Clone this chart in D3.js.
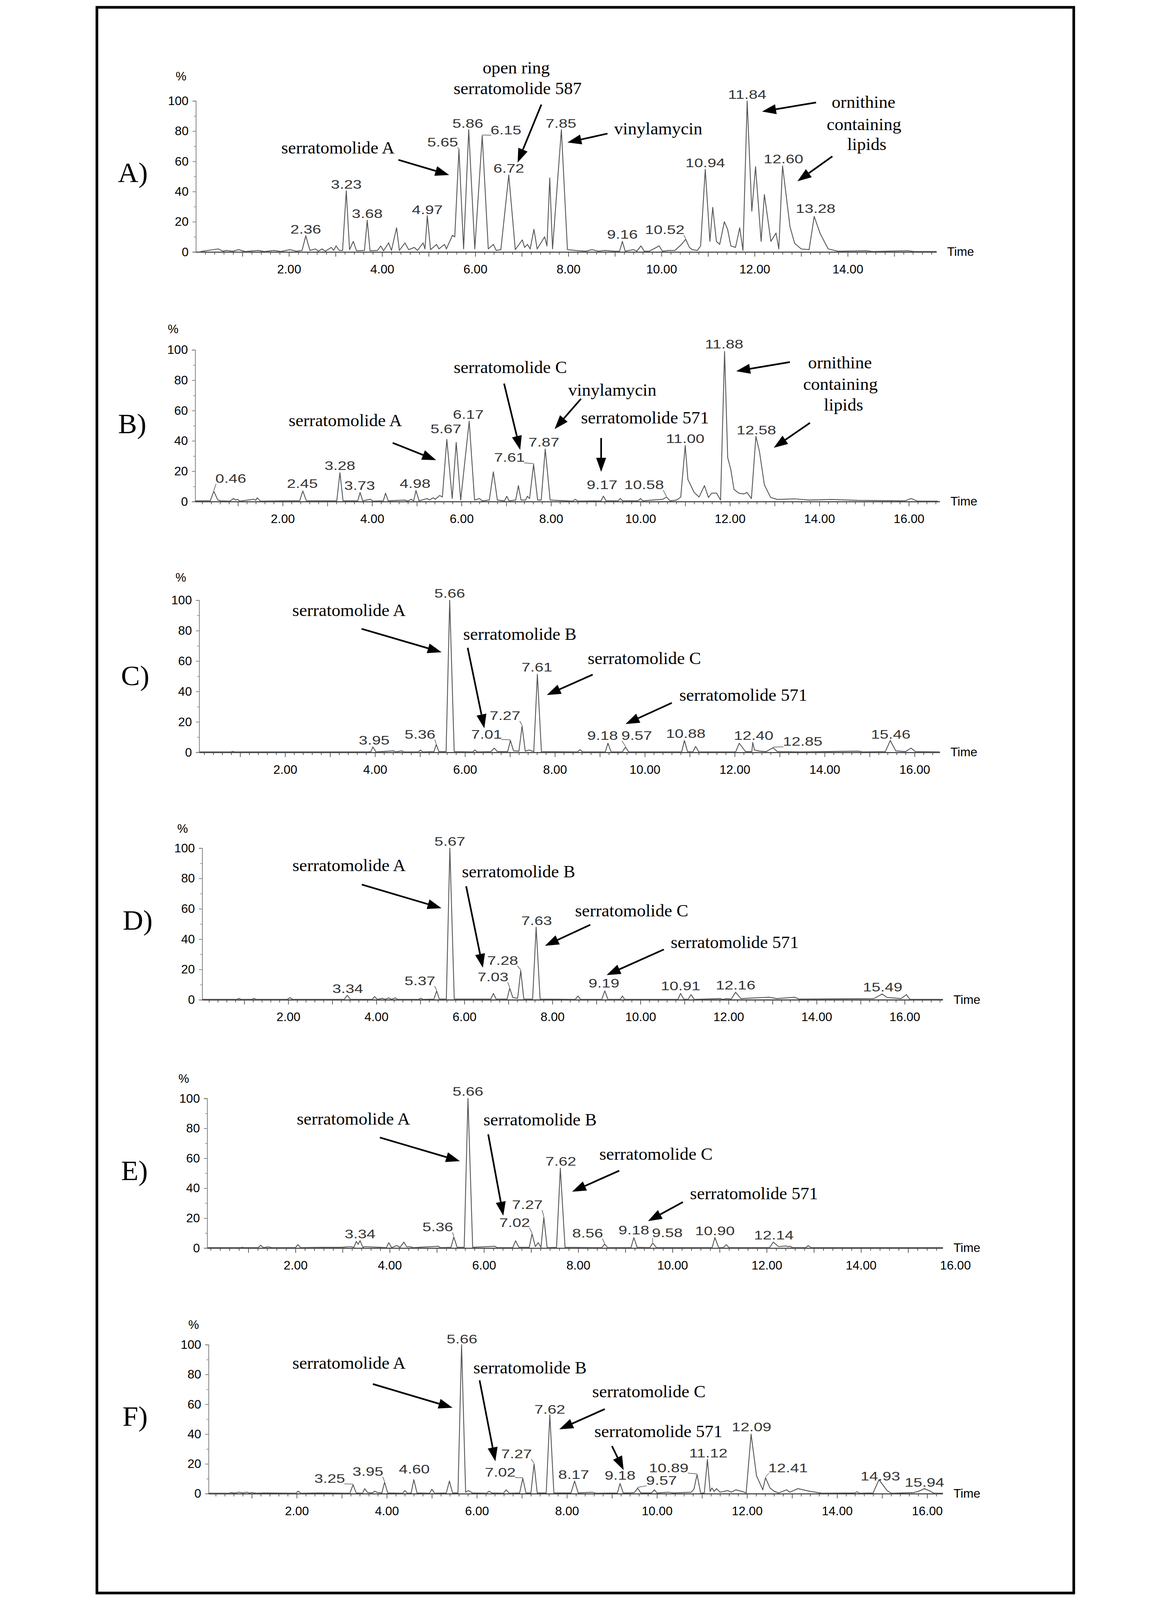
<!DOCTYPE html>
<html><head><meta charset="utf-8">
<script src="https://cdn.jsdelivr.net/npm/d3@7"></script>
<style>html,body{margin:0;padding:0;background:#fff;overflow:hidden}svg{display:block}</style>
</head><body>
<svg id="fig"></svg>
<script>
// ================= DATA =================
const panelLetters = ["A)","B)","C)","D)","E)","F)"];

// chromatogram traces: [time (min), relative intensity (%)]
const traceA = [[0.10,0.3],[0.48,2],[0.58,0.5],[0.65,1],[0.79,0.5],[0.92,1.5],[1.06,0.3],[1.34,1],[1.47,0.3],[1.68,1],[1.82,0.3],[2.02,1.5],[2.16,0.5],[2.28,1],[2.36,10.7],[2.45,1],[2.57,2],[2.63,0.5],[2.71,2],[2.78,0.5],[2.91,3],[2.96,1],[3.01,4],[3.08,1],[3.15,1],[3.23,40.5],[3.30,1.5],[3.38,7],[3.45,0.8],[3.62,1],[3.68,21],[3.74,0.8],[3.90,1],[3.97,4],[4.03,0.8],[4.14,6],[4.20,1],[4.31,16],[4.37,1],[4.49,6],[4.57,1.5],[4.69,3],[4.76,1],[4.88,6],[4.92,2],[4.97,24],[5.04,1.5],[5.17,5],[5.22,2],[5.34,5],[5.38,2],[5.51,11],[5.56,10],[5.65,68],[5.75,2],[5.86,81],[5.99,2],[6.15,77],[6.28,2],[6.39,5],[6.45,1],[6.55,1.5],[6.72,51],[6.86,1.5],[7.01,8],[7.06,3],[7.12,5],[7.18,2],[7.26,15],[7.33,2],[7.49,10],[7.54,4],[7.60,49],[7.66,2],[7.85,81],[7.98,1.5],[8.22,0.8],[8.37,0.5],[8.51,1.5],[8.65,0.5],[8.78,1],[8.99,0.5],[9.10,0.5],[9.16,7],[9.22,0.5],[9.40,1.5],[9.47,0.5],[9.56,4],[9.63,0.5],[9.74,0.5],[9.95,4],[10.02,0.5],[10.16,1],[10.29,1],[10.43,5],[10.52,8.4],[10.60,3],[10.66,1.5],[10.77,1],[10.84,4],[10.94,54.7],[11.04,7],[11.10,29.5],[11.18,7],[11.25,5],[11.35,20],[11.42,15],[11.49,4],[11.59,3],[11.68,16],[11.75,1],[11.84,100],[11.94,27],[12.02,56.5],[12.14,7],[12.21,38],[12.35,7],[12.46,12.5],[12.52,2],[12.60,57],[12.76,16.7],[12.86,5.7],[13.00,2],[13.17,1.5],[13.28,23.5],[13.41,12],[13.58,2],[13.79,0.5],[14.40,0.8],[14.53,0.3],[15.29,0.8],[15.43,0.3],[15.91,0.3]];
const traceB = [[0.04,0.5],[0.38,0.5],[0.46,6.8],[0.55,1],[0.62,0.5],[0.82,0.3],[0.90,2],[0.95,1],[0.99,1.5],[1.04,0.3],[1.36,1.5],[1.40,0.8],[1.43,2.5],[1.50,0.3],[2.00,0.5],[2.38,0.5],[2.45,7],[2.53,0.5],[3.21,0.5],[3.28,19],[3.35,0.5],[3.68,0.5],[3.73,6],[3.79,0.5],[3.96,1.5],[4.02,0.3],[4.25,0.5],[4.30,5.5],[4.36,0.5],[4.73,1],[4.80,0.3],[4.87,1.5],[4.93,0.5],[4.98,7.3],[5.05,0.5],[5.23,2],[5.28,1],[5.37,2.5],[5.41,1.5],[5.51,4],[5.57,3],[5.67,41],[5.79,2],[5.88,39],[5.98,1],[6.17,53],[6.29,1],[6.40,2],[6.46,0.5],[6.62,1],[6.71,19.6],[6.80,1],[6.96,0.5],[7.01,3.5],[7.06,0.5],[7.21,1],[7.27,10.5],[7.33,1],[7.43,1],[7.47,3.5],[7.52,2],[7.61,24.6],[7.70,1],[7.78,1],[7.87,34.6],[7.98,1],[8.49,0.3],[8.54,1.5],[8.60,0.3],[9.12,0.5],[9.17,3.6],[9.23,0.5],[9.50,0.5],[9.55,2],[9.60,0.5],[9.95,0.5],[10.00,2],[10.05,0.5],[10.50,1.5],[10.58,3],[10.66,0.5],[10.81,1],[10.90,3],[11.00,37],[11.06,14.6],[11.20,6],[11.31,3],[11.43,10.5],[11.52,2.7],[11.59,5.5],[11.70,5.6],[11.79,1],[11.88,99],[11.95,29],[12.02,21],[12.09,8],[12.20,5.5],[12.31,5],[12.38,6],[12.48,2],[12.58,43],[12.66,33],[12.77,11],[12.91,2.7],[13.06,1.4],[13.45,1.8],[13.77,1],[14.27,1.4],[14.85,0.8],[15.92,0.5],[16.05,2],[16.19,0.3],[16.65,0.3]];
const traceC = [[0.09,0.3],[0.80,0.3],[0.83,0.6],[0.88,0.3],[3.85,0.3],[3.91,0.5],[3.95,3.6],[4.02,0.3],[4.41,1],[4.46,0.3],[4.59,1],[4.64,0.3],[4.96,0.3],[5.01,1.5],[5.06,0.3],[5.31,0.5],[5.36,5.2],[5.42,0.5],[5.58,0.5],[5.66,100],[5.76,0.5],[6.17,0.3],[6.22,1.5],[6.27,0.3],[6.58,0.5],[6.65,2.8],[6.72,0.5],[6.95,0.5],[7.01,7.8],[7.08,1],[7.20,0.8],[7.27,17.3],[7.34,0.8],[7.43,1.5],[7.53,0.5],[7.61,51.3],[7.70,0.5],[8.50,0.3],[8.56,1.7],[8.62,0.3],[9.12,0.3],[9.18,6],[9.25,0.3],[9.50,0.3],[9.57,3.5],[9.64,0.3],[10.82,0.3],[10.88,7.8],[10.95,0.5],[11.07,0.3],[11.13,3.9],[11.20,0.3],[12.02,0.3],[12.10,6],[12.24,0.5],[12.38,0.5],[12.40,6.5],[12.44,1.5],[12.55,0.8],[12.70,0.5],[12.85,3],[12.95,0.5],[13.50,0.3],[14.74,0.8],[14.85,0.3],[15.35,0.5],[15.46,7.8],[15.58,1],[15.80,0.5],[15.92,2.8],[16.02,0.5],[16.56,0.3]];
const traceD = [[0.05,0.3],[0.84,0.3],[0.88,1],[0.92,0.3],[1.18,0.3],[1.22,1],[1.26,0.3],[1.98,0.3],[2.04,1.4],[2.10,0.3],[3.27,0.3],[3.34,3],[3.41,0.3],[3.91,0.3],[3.96,2.1],[4.02,0.3],[4.14,1],[4.20,0.3],[4.28,1.3],[4.34,0.3],[4.43,1.3],[4.48,0.3],[4.96,0.3],[5.01,1],[5.06,0.3],[5.31,0.5],[5.37,5.9],[5.43,0.5],[5.59,0.5],[5.67,100],[5.77,0.5],[6.22,0.5],[6.60,0.5],[6.66,4.2],[6.72,0.5],[6.97,0.5],[7.03,7.6],[7.10,1.5],[7.14,1.3],[7.21,1],[7.28,19.3],[7.35,0.5],[7.55,0.5],[7.63,47.9],[7.72,0.5],[8.52,0.3],[8.58,2.5],[8.64,0.3],[9.12,0.3],[9.19,5.9],[9.26,0.3],[9.54,0.3],[9.59,2.5],[9.64,0.3],[10.85,0.3],[10.91,4.2],[10.98,0.5],[11.08,0.3],[11.15,3.4],[11.22,0.3],[11.80,0.8],[11.88,0.3],[11.95,0.8],[12.06,0.5],[12.16,5],[12.28,0.8],[12.92,1.7],[13.10,0.8],[13.50,1.7],[13.60,0.5],[15.30,0.8],[15.49,3.8],[15.60,1.5],[15.71,1.3],[15.92,0.8],[16.04,3.4],[16.12,0.3],[16.87,0.3]];
const traceE = [[0.13,0.3],[0.83,0.3],[0.87,0.5],[0.91,0.3],[1.21,0.3],[1.26,1.9],[1.32,0.3],[1.42,0.8],[1.50,0.3],[2.00,0.3],[2.05,2.3],[2.11,0.3],[2.56,0.5],[2.97,0.5],[3.17,1],[3.24,0.5],[3.29,4.5],[3.33,2.5],[3.37,5],[3.43,0.5],[3.47,1],[3.93,0.3],[3.98,3.6],[4.04,0.3],[4.15,1.7],[4.22,0.5],[4.30,4],[4.36,0.8],[4.42,1],[4.50,0.3],[5.03,1.2],[5.08,0.3],[5.30,0.5],[5.36,7.4],[5.43,0.5],[5.58,0.5],[5.66,100],[5.76,0.5],[6.23,1.2],[6.28,0.3],[6.61,0.3],[6.67,4.9],[6.74,0.5],[6.96,0.5],[7.02,9.5],[7.09,1],[7.15,3.6],[7.21,0.5],[7.27,20.6],[7.34,0.3],[7.54,0.5],[7.62,53.4],[7.72,0.5],[8.50,0.3],[8.56,2.7],[8.62,0.3],[9.12,0.3],[9.18,7],[9.25,0.5],[9.52,0.3],[9.58,3.4],[9.66,0.3],[10.84,0.3],[10.90,7],[10.98,0.3],[11.08,0.3],[11.14,2.3],[11.20,0.3],[12.06,0.3],[12.14,4],[12.25,1],[12.42,1.4],[12.46,0.8],[12.49,1.3],[12.55,0.3],[12.83,0.3],[12.88,1.7],[12.94,0.3],[15.74,0.3]];
const traceF = [[0.04,0.3],[0.50,0.3],[0.54,0.8],[0.62,0.4],[0.71,1],[0.80,0.5],[0.89,1],[0.95,0.4],[1.00,0.8],[1.10,0.3],[1.28,0.5],[1.98,0.3],[2.03,1.7],[2.09,0.3],[2.49,0.5],[3.18,0.3],[3.25,6],[3.32,0.5],[3.46,0.3],[3.51,3.4],[3.57,0.8],[3.68,0.5],[3.73,1.7],[3.79,0.8],[3.89,0.5],[3.95,7.7],[4.02,0.5],[4.35,0.3],[4.40,2.1],[4.46,0.3],[4.54,0.5],[4.60,9.4],[4.67,0.5],[4.95,0.3],[5.00,3],[5.06,0.3],[5.32,0.5],[5.39,8.5],[5.46,0.5],[5.58,0.5],[5.66,100],[5.75,1],[5.81,2.1],[5.90,0.5],[6.22,0.3],[6.27,1.7],[6.33,0.5],[6.59,0.3],[6.65,2.6],[6.72,0.3],[6.95,0.5],[7.02,10.3],[7.09,0.5],[7.20,0.5],[7.27,20],[7.34,0.5],[7.54,0.5],[7.62,53],[7.71,0.5],[8.09,0.5],[8.17,8.5],[8.25,0.5],[8.56,1],[8.65,0.3],[9.12,0.5],[9.18,6.8],[9.25,0.5],[9.40,0.5],[9.50,0.8],[9.57,3.8],[9.64,0.5],[9.88,0.5],[9.94,2.6],[10.00,0.5],[10.26,1],[10.35,0.5],[10.76,1],[10.82,3],[10.89,12.8],[10.97,0.3],[11.05,0.5],[11.12,23],[11.18,1.5],[11.22,3.8],[11.27,1.5],[11.32,3.4],[11.40,1],[11.57,2.1],[11.65,1],[11.75,2.6],[11.89,1.5],[11.98,0.5],[12.09,40],[12.21,12],[12.35,2.6],[12.41,10.7],[12.51,3.8],[12.60,1.7],[12.70,0.5],[12.88,2.6],[12.95,1],[13.13,3.4],[13.38,1.7],[13.66,0.3],[14.40,0.5],[14.44,1.3],[14.50,0.3],[14.80,0.5],[14.93,9.4],[15.11,2.1],[15.20,0.3],[15.71,0.8],[15.80,1.5],[15.94,3.4],[16.07,1.7],[16.15,0.3],[16.35,0.3]];

// labelled peaks: [label text, retention time, apex intensity %]
const peaksA = [["2.36",2.36,10.7],["3.23",3.23,40.5],["3.68",3.68,21],["4.97",4.97,24],["5.65",5.65,68],["5.86",5.86,81],["6.15",6.15,77],["6.72",6.72,51],["7.85",7.85,81],["9.16",9.16,7],["10.52",10.52,8.4],["10.94",10.94,54.7],["11.84",11.84,100],["12.60",12.60,57],["13.28",13.28,23.5]];
const peaksB = [["0.46",0.46,6.8],["2.45",2.45,7],["3.28",3.28,19],["3.73",3.73,6],["4.98",4.98,7.3],["5.67",5.67,41],["6.17",6.17,53],["7.61",7.61,24.6],["7.87",7.87,34.6],["9.17",9.17,3.6],["10.58",10.58,3],["11.00",11.00,37],["11.88",11.88,99],["12.58",12.58,43]];
const peaksC = [["3.95",3.95,3.6],["5.36",5.36,5.2],["5.66",5.66,100],["7.01",7.01,7.8],["7.27",7.27,17.3],["7.61",7.61,51.3],["9.18",9.18,6],["9.57",9.57,3.5],["10.88",10.88,7.8],["12.40",12.40,6.5],["12.85",12.85,3],["15.46",15.46,7.8]];
const peaksD = [["3.34",3.34,3],["5.37",5.37,5.9],["5.67",5.67,100],["7.03",7.03,7.6],["7.28",7.28,19.3],["7.63",7.63,47.9],["9.19",9.19,5.9],["10.91",10.91,4.2],["12.16",12.16,5],["15.49",15.49,3.8]];
const peaksE = [["3.34",3.34,5],["5.36",5.36,7.4],["5.66",5.66,100],["7.02",7.02,9.5],["7.27",7.27,20.6],["7.62",7.62,53.4],["8.56",8.56,2.7],["9.18",9.18,7],["9.58",9.58,3.4],["10.90",10.90,7],["12.14",12.14,4]];
const peaksF = [["3.25",3.25,6],["3.95",3.95,7.7],["4.60",4.60,9.4],["5.66",5.66,100],["7.02",7.02,10.3],["7.27",7.27,20],["7.62",7.62,53],["8.17",8.17,8.5],["9.18",9.18,6.8],["9.57",9.57,3.8],["10.89",10.89,12.8],["11.12",11.12,23],["12.09",12.09,40],["12.41",12.41,10.7],["14.93",14.93,9.4],["15.94",15.94,3.4]];

// compound annotations (text)
const notesTextA = ["serratomolide A","open ring","serratomolide 587","vinylamycin","ornithine","containing","lipids"];
const notesTextB = ["serratomolide A","serratomolide C","vinylamycin","serratomolide 571","ornithine","containing","lipids"];
const notesTextC = ["serratomolide A","serratomolide B","serratomolide C","serratomolide 571"];
const notesTextD = notesTextC, notesTextE = notesTextC, notesTextF = notesTextC;

// axis tick labels
const xTickLabelsA = ["2.00","4.00","6.00","8.00","10.00","12.00","14.00"];
const xTickLabelsBF = ["2.00","4.00","6.00","8.00","10.00","12.00","14.00","16.00"];
const yTickLabels = ["0","20","40","60","80","100"];
const yMinorTicks = [10,30,50,70,90];

// ================= LAYOUT (positions in data units: [time, %]) =================
const layouts = [
  {x0:330,  k:139.7, axisX:330, xEnd:2552, y0:756,    y100:303},
  {x0:322,  k:134.2, axisX:328, xEnd:2562, y0:1505,   y100:1050},
  {x0:328,  k:134.9, axisX:340, xEnd:2562, y0:2257.5, y100:1801},
  {x0:343,  k:132.1, axisX:349, xEnd:2571, y0:3000,   y100:2545},
  {x0:346,  k:141.4, axisX:364, xEnd:2571, y0:3745,   y100:3296},
  {x0:362.5,k:135.1, axisX:368, xEnd:2571, y0:4482,   y100:4035}
];
const labelPosA = [[2.36,12.1],[3.23,41.8],[3.68,22.6],[4.97,25.2],[5.30,69.8],[5.84,82.4],[6.66,78],[6.72,52.4],[7.84,82.3],[9.16,8.9],[10.07,11.8],[10.94,56.2],[11.84,101.4],[12.62,58.8],[13.31,25.8]];
const labelPosB = [[0.84,12.3],[2.44,8.9],[3.28,20.8],[3.72,7.7],[4.96,8.9],[5.65,45],[6.15,54.6],[7.07,26.2],[7.84,36.2],[9.14,8.2],[10.08,8.2],[11.00,38.7],[11.87,101],[12.59,44.2]];
const labelPosC = [[3.98,5.2],[5.00,9.1],[5.66,101.6],[6.48,9.1],[6.89,21.2],[7.60,53.2],[9.06,8.2],[9.82,8.2],[10.91,9.5],[12.42,8.2],[13.51,4.3],[15.47,9.1]];
const labelPosD = [[3.35,4.6],[4.99,9.7],[5.67,101.5],[6.65,12.2],[6.87,23.1],[7.64,49.2],[9.17,8],[10.91,6.3],[12.16,6.9],[15.50,5.5]];
const labelPosE = [[3.37,6.6],[5.02,11.2],[5.66,101.7],[6.65,14.2],[6.92,26.1],[7.63,55.1],[8.20,7],[9.18,9.1],[9.89,7.4],[10.90,8.7],[12.15,5.7]];
const labelPosF = [[2.73,7.3],[3.58,12],[4.61,13.7],[5.67,101],[6.52,11.5],[6.88,23.9],[7.62,53.8],[8.15,9.8],[9.18,9.4],[10.10,6],[10.26,14.5],[11.14,24.4],[12.10,41.9],[12.91,14.5],[14.96,9],[15.94,4.7]];

const notesPosA = [[3.05,65.1],[6.88,118.2],[6.91,104.5],[9.93,77.9],[14.34,95.4],[14.35,80.8],[14.41,67.4]];
const notesPosB = [[3.40,49.7],[7.09,84.7],[9.37,69.7],[10.10,51.4],[14.46,87.9],[14.47,73.7],[14.54,60.1]];
const notesPosC = [[3.42,89.6],[7.22,74.0],[9.99,58.0],[12.19,33.8]];
const notesPosD = [[3.38,84.8],[7.23,80.7],[9.80,54.9],[12.14,34.0]];
const notesPosE = [[3.23,82.4],[7.19,82.0],[9.65,59.0],[11.73,32.6]];
const notesPosF = [[3.16,83.8],[7.18,80.8],[9.82,64.6],[10.03,38.0]];

const arrowsA = [[[4.35,61.0],[5.44,51.0]],[[7.42,97.6],[6.91,59.2]],[[8.84,78.4],[7.98,72.5]],[[13.32,99.0],[12.16,93.0]],[[13.67,63.3],[12.92,46.8]]];
const arrowsB = [[[4.46,38.7],[5.43,27.3]],[[6.95,77.8],[7.31,34.1]],[[8.67,67.8],[8.08,47.8]],[[9.12,41.9],[9.12,19.6]],[[13.34,92.0],[12.14,86.0]],[[13.79,51.9],[12.98,35.5]]];
const arrowsC = [[[3.70,81.2],[5.48,65.8]],[[6.06,68.7],[6.43,15.8]],[[8.84,51.1],[7.82,37.7]],[[10.60,32.5],[9.57,18.6]]];
const arrowsD = [[[3.67,76.0],[5.48,60.4]],[[6.04,74.9],[6.42,21.1]],[[8.86,49.5],[7.83,35.6]],[[10.53,33.2],[9.23,16.3]]];
const arrowsE = [[[3.79,73.9],[5.49,58.1]],[[6.09,76.0],[6.41,21.6]],[[8.87,51.7],[7.87,37.7]],[[10.22,30.7],[9.48,18.0]]];
const arrowsF = [[[3.69,73.6],[5.46,57.7]],[[6.06,76.1],[6.41,21.7]],[[8.84,56.8],[7.83,43.2]],[[9.00,32.0],[9.26,15.8]]];

const panelLabelPos = [[-1.675,46.4],[-1.68,45.1],[-1.65,44.1],[-1.76,46.2],[-1.70,45.4],[-1.87,45.7]];
const percentPos = [[-0.32,113.7],[-0.45,111],[-0.32,112.2],[-0.40,110.1],[-0.37,110.5],[-0.29,110.7]];

// ================= STYLE =================
const S = {
  sans: "'Liberation Sans', Arial, sans-serif",
  serif: "'Liberation Serif', 'Times New Roman', serif",
  traceColor: "#555", traceWidth: 2.6,
  peakFont: 36, peakScaleX: 1.32, peakColor: "#333",
  noteFont: 53, noteScaleX: 1.0,
  panelFont: 85,
  tickFont: 37, timeFont: 37, pctFont: 36,
  arrowWidth: 5, headLen: 42, headHalf: 15
};

// ================= DRAW =================
// The figure is drawn in a 2995×4801 coordinate space and fitted to the visible window.
const W = 2995, H = 4801;
const vw = window.innerWidth || W;
const vh = Math.min(window.innerHeight || H, H);
const svg = d3.select("#fig").attr("width", vw).attr("height", vh)
  .attr("viewBox", `0 0 ${W} ${H}`).attr("preserveAspectRatio", "xMidYMin meet");
svg.append("rect").attr("x",0).attr("y",0).attr("width",W).attr("height",H).attr("fill","#fff");
svg.append("rect").attr("x",33).attr("y",22).attr("width",2931).attr("height",4758)
  .attr("fill","none").attr("stroke","#000").attr("stroke-width",8);

const panels = [
  {trace:traceA, peaks:peaksA, lpos:labelPosA, notes:notesTextA, npos:notesPosA, arrows:arrowsA, xt:xTickLabelsA},
  {trace:traceB, peaks:peaksB, lpos:labelPosB, notes:notesTextB, npos:notesPosB, arrows:arrowsB, xt:xTickLabelsBF},
  {trace:traceC, peaks:peaksC, lpos:labelPosC, notes:notesTextC, npos:notesPosC, arrows:arrowsC, xt:xTickLabelsBF},
  {trace:traceD, peaks:peaksD, lpos:labelPosD, notes:notesTextD, npos:notesPosD, arrows:arrowsD, xt:xTickLabelsBF},
  {trace:traceE, peaks:peaksE, lpos:labelPosE, notes:notesTextE, npos:notesPosE, arrows:arrowsE, xt:xTickLabelsBF},
  {trace:traceF, peaks:peaksF, lpos:labelPosF, notes:notesTextF, npos:notesPosF, arrows:arrowsF, xt:xTickLabelsBF}
];

panels.forEach((p, i) => {
  const L = layouts[i];
  const tStart = (L.axisX - L.x0) / L.k, tEnd = (L.xEnd - L.x0) / L.k;
  const x = d3.scaleLinear().domain([tStart, tEnd]).range([L.axisX, L.xEnd]);
  const y = d3.scaleLinear().domain([0, 100]).range([L.y0, L.y100]);
  const g = svg.append("g");

  // y axis
  const yAx = g.append("g").attr("transform", `translate(${L.axisX},0)`)
    .call(d3.axisLeft(y).tickValues(yTickLabels.map(Number)).tickFormat((d,j)=>yTickLabels[j]).tickSize(10).tickPadding(12));
  yAx.select(".domain").attr("stroke","#8a8a8a").attr("stroke-width",2.5);
  yAx.selectAll(".tick line").attr("stroke","#777").attr("stroke-width",2);
  yAx.selectAll("text").attr("font-family",S.sans).attr("font-size",S.tickFont).attr("fill","#000");
  const yMin = g.append("g").attr("transform", `translate(${L.axisX},0)`)
    .call(d3.axisLeft(y).tickValues(yMinorTicks).tickFormat("").tickSize(6));
  yMin.select(".domain").remove();
  yMin.selectAll(".tick line").attr("stroke","#888").attr("stroke-width",2);

  // x axis: minor (0.2 min), 1-min, labelled 2-min ticks
  const minor = d3.range(Math.ceil(tStart*5)/5, tEnd, 0.2).filter(v => Math.abs(v - Math.round(v)) > 0.01);
  const xMin = g.append("g").attr("transform", `translate(0,${L.y0})`)
    .call(d3.axisBottom(x).tickValues(minor).tickFormat("").tickSize(8).tickSizeOuter(0));
  xMin.select(".domain").attr("stroke","#333").attr("stroke-width",3);
  xMin.selectAll(".tick line").attr("stroke","#444").attr("stroke-width",2);
  const majors = d3.range(Math.ceil(tStart), tEnd + 0.001, 1).filter(v => v > tStart + 0.05);
  const xMaj = g.append("g").attr("transform", `translate(0,${L.y0})`)
    .call(d3.axisBottom(x).tickValues(majors).tickFormat("").tickSize(14));
  xMaj.select(".domain").remove();
  xMaj.selectAll(".tick line").attr("stroke","#444").attr("stroke-width",2);
  const xLab = g.append("g").attr("transform", `translate(0,${L.y0})`)
    .call(d3.axisBottom(x).tickValues(p.xt.map(Number)).tickFormat((d,j)=>p.xt[j]).tickSize(0));
  xLab.select(".domain").remove();
  xLab.selectAll("text").attr("y", 38).attr("font-family",S.sans).attr("font-size",S.tickFont).attr("fill","#000");

  // "%" and "Time"
  g.append("text").attr("x", x(percentPos[i][0])).attr("y", y(percentPos[i][1]))
    .attr("text-anchor","middle").attr("font-family",S.sans).attr("font-size",S.pctFont).text("%");
  g.append("text").attr("x", x.range()[1] + 32).attr("y", L.y0 + 12)
    .attr("font-family",S.sans).attr("font-size",S.timeFont).text("Time");

  // panel letter
  g.append("text").attr("x", x(panelLabelPos[i][0])).attr("y", y(panelLabelPos[i][1]))
    .attr("font-family",S.serif).attr("font-size",S.panelFont).text(panelLetters[i]);

  // trace
  const line = d3.line().x(d => x(d[0])).y(d => y(d[1]));
  g.append("path").datum(p.trace).attr("d", line).attr("fill","none")
    .attr("stroke",S.traceColor).attr("stroke-width",S.traceWidth).attr("stroke-linejoin","round");

  // peak labels
  p.peaks.forEach((pk, j) => {
    const [txt, at, av] = pk;
    const [lt, lv] = p.lpos[j];
    const tx = x(lt), ty = y(lv);
    const t = g.append("text").attr("transform", `translate(${tx},${ty}) scale(${S.peakScaleX},1)`)
      .attr("text-anchor","middle").attr("font-family",S.sans).attr("font-size",S.peakFont)
      .attr("fill",S.peakColor).text(txt);
    if (Math.abs(lt - at) > 0.2) {
      const w = t.node().getComputedTextLength() * S.peakScaleX;
      const side = at > lt ? 1 : -1;
      g.append("line").attr("x1", tx + side * (w/2 - 2)).attr("y1", ty + 3)
        .attr("x2", x(at)).attr("y2", y(av) - 2)
        .attr("stroke", txt === "12.41" ? "#c77" : "#666").attr("stroke-width",2);
    }
  });

  // compound annotations
  p.notes.forEach((txt, j) => {
    const [nt, nv] = p.npos[j];
    g.append("text").attr("transform", `translate(${x(nt)},${y(nv)}) scale(${S.noteScaleX},1)`)
      .attr("text-anchor","middle").attr("font-family",S.serif).attr("font-size",S.noteFont)
      .attr("fill","#000").text(txt);
  });

  // arrows
  p.arrows.forEach(a => {
    const x1 = x(a[0][0]), y1 = y(a[0][1]), x2 = x(a[1][0]), y2 = y(a[1][1]);
    const ang = Math.atan2(y2 - y1, x2 - x1);
    const bx = x2 - S.headLen * Math.cos(ang), by = y2 - S.headLen * Math.sin(ang);
    g.append("line").attr("x1",x1).attr("y1",y1).attr("x2",bx).attr("y2",by)
      .attr("stroke","#000").attr("stroke-width",S.arrowWidth);
    const px = -Math.sin(ang) * S.headHalf, py = Math.cos(ang) * S.headHalf;
    g.append("path").attr("d", `M${x2},${y2}L${bx+px},${by+py}L${bx-px},${by-py}Z`).attr("fill","#000");
  });
});
</script>
</body></html>
